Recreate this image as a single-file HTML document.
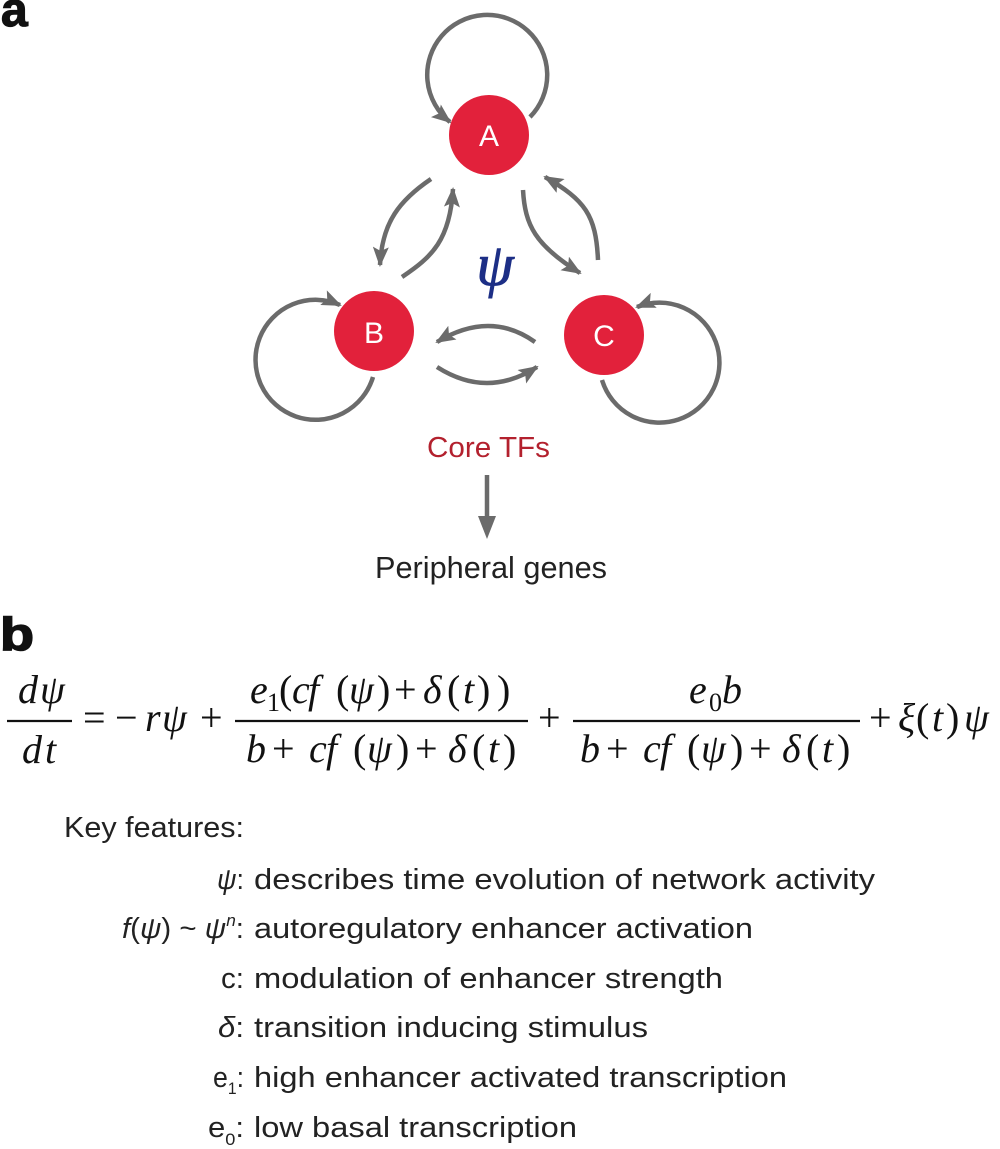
<!DOCTYPE html>
<html>
<head>
<meta charset="utf-8">
<style>
  html,body{margin:0;padding:0;background:#fff;}
  svg{display:block;}
  .m{font-family:"Liberation Serif","DejaVu Serif",serif;font-size:40px;fill:#111;}
  .i{font-style:italic;}
  .s{font-family:"Liberation Sans","DejaVu Sans",sans-serif;fill:#222;}
</style>
</head>
<body>
<svg width="1000" height="1149" viewBox="0 0 1000 1149" xmlns="http://www.w3.org/2000/svg">
  <defs>
    <marker id="ah" markerUnits="userSpaceOnUse" markerWidth="20" markerHeight="16" viewBox="0 0 20 16" refX="18" refY="8" orient="auto">
      <path d="M0,0 L20,8 L0,16 L4,8 Z" fill="#6b6b6b"/>
    </marker>
  </defs>

  <!-- panel labels -->
  <text x="1" y="26" font-family="Liberation Sans, sans-serif" font-weight="bold" font-size="48" fill="#111" stroke="#111" stroke-width="1.2">a</text>
  <text x="0" y="650" font-family="Liberation Sans, sans-serif" font-weight="bold" font-size="46" fill="#111" stroke="#111" stroke-width="1.5" textLength="34" lengthAdjust="spacingAndGlyphs">b</text>

  <!-- network connectors -->
  <g fill="none" stroke="#6b6b6b" stroke-width="4.5" marker-end="url(#ah)">
    <path d="M530,117 A60,60 0 1 0 450,122"/>
    <path d="M373,377 A60,60 0 1 1 340,305"/>
    <path d="M602,380 A60,60 0 1 0 637,307"/>
    <path d="M431,179 C400,200 382,222 380,265"/>
    <path d="M402,277 C432,257 450,240 453,189"/>
    <path d="M523,190 C525,225 535,245 580,273"/>
    <path d="M598,260 C596,215 585,200 545,177"/>
    <path d="M535,342 Q490,310 437,342"/>
    <path d="M437,367 Q487,399 537,367"/>
  </g>

  <!-- nodes -->
  <g fill="#e2213b">
    <circle cx="489" cy="135" r="40"/>
    <circle cx="374" cy="331" r="40"/>
    <circle cx="604" cy="335" r="40"/>
  </g>
  <g font-family="Liberation Sans, sans-serif" font-size="30" fill="#fff" text-anchor="middle">
    <text x="489" y="146">A</text>
    <text x="374" y="343">B</text>
    <text x="604" y="346">C</text>
  </g>

  <!-- psi -->
  <text x="495" y="285" text-anchor="middle" font-family="Liberation Serif, serif" font-style="italic" font-size="60" fill="#1d2f86" stroke="#1d2f86" stroke-width="1">ψ</text>

  <!-- Core TFs -> Peripheral genes -->
  <text class="s" x="427" y="457" font-size="29" style="fill:#b3212e" textLength="123" lengthAdjust="spacingAndGlyphs">Core TFs</text>
  <line x1="487" y1="475" x2="487" y2="520" stroke="#6b6b6b" stroke-width="4.5"/>
  <polygon points="478,516 496,516 487,539" fill="#6b6b6b"/>
  <text class="s" x="375" y="578" font-size="31" textLength="232" lengthAdjust="spacingAndGlyphs">Peripheral genes</text>

  <!-- equation -->
  <g class="m">
    <text y="703"><tspan class="i" x="18">d</tspan><tspan class="i" x="40">ψ</tspan></text>
    <text y="763"><tspan class="i" x="22">d</tspan><tspan class="i" x="45">t</tspan></text>
    <text y="731"><tspan x="83">=</tspan><tspan x="115">−</tspan><tspan class="i" x="145">r</tspan><tspan class="i" x="162">ψ</tspan><tspan x="200">+</tspan></text>
    <text y="703"><tspan class="i" x="250">e</tspan><tspan x="267" y="711" font-size="26">1</tspan><tspan x="279" y="703">(</tspan><tspan class="i" x="292 308">cf</tspan><tspan x="336">(</tspan><tspan class="i" x="349">ψ</tspan><tspan x="377 394">)+</tspan><tspan class="i" x="423">δ</tspan><tspan x="447">(</tspan><tspan class="i" x="463">t</tspan><tspan x="477 497">))</tspan></text>
    <text y="762"><tspan class="i" x="246">b</tspan><tspan x="272">+</tspan><tspan class="i" x="309 326">cf</tspan><tspan x="353">(</tspan><tspan class="i" x="367">ψ</tspan><tspan x="396 415">)+</tspan><tspan class="i" x="448">δ</tspan><tspan x="472">(</tspan><tspan class="i" x="488">t</tspan><tspan x="503">)</tspan></text>
    <text y="731" x="538">+</text>
    <text y="703"><tspan class="i" x="689">e</tspan><tspan x="709" y="711" font-size="26">0</tspan><tspan class="i" x="722" y="703">b</tspan></text>
    <text y="762"><tspan class="i" x="580">b</tspan><tspan x="606">+</tspan><tspan class="i" x="643 660">cf</tspan><tspan x="687">(</tspan><tspan class="i" x="701">ψ</tspan><tspan x="730 749">)+</tspan><tspan class="i" x="782">δ</tspan><tspan x="806">(</tspan><tspan class="i" x="822">t</tspan><tspan x="837">)</tspan></text>
    <text y="731"><tspan x="869">+</tspan><tspan class="i" x="898">ξ</tspan><tspan x="916">(</tspan><tspan class="i" x="932">t</tspan><tspan x="946">)</tspan><tspan class="i" x="964">ψ</tspan></text>
  </g>
  <g stroke="#111" stroke-width="2.2">
    <line x1="7" y1="721" x2="72" y2="721"/>
    <line x1="235" y1="721" x2="528" y2="721"/>
    <line x1="573" y1="721" x2="860" y2="721"/>
  </g>

  <!-- key features -->
  <g class="s" font-size="29">
    <text x="64" y="837" textLength="180" lengthAdjust="spacingAndGlyphs">Key features:</text>

    <text x="217" y="889" textLength="27" lengthAdjust="spacingAndGlyphs"><tspan font-style="italic">ψ</tspan>:</text>
    <text x="254" y="889" textLength="621" lengthAdjust="spacingAndGlyphs">describes time evolution of network activity</text>

    <text x="122" y="938" textLength="122" lengthAdjust="spacingAndGlyphs"><tspan font-style="italic">f</tspan>(<tspan font-style="italic">ψ</tspan>) ~ <tspan font-style="italic">ψ</tspan><tspan font-style="italic" font-size="17" dy="-12">n</tspan><tspan dy="12">:</tspan></text>
    <text x="254" y="938" textLength="499" lengthAdjust="spacingAndGlyphs">autoregulatory enhancer activation</text>

    <text x="221" y="988" textLength="23" lengthAdjust="spacingAndGlyphs">c:</text>
    <text x="254" y="988" textLength="469" lengthAdjust="spacingAndGlyphs">modulation of enhancer strength</text>

    <text x="218" y="1037" textLength="26" lengthAdjust="spacingAndGlyphs"><tspan font-style="italic">δ</tspan>:</text>
    <text x="254" y="1037" textLength="394" lengthAdjust="spacingAndGlyphs">transition inducing stimulus</text>

    <text x="213" y="1087" textLength="31" lengthAdjust="spacingAndGlyphs">e<tspan font-size="17" dy="7">1</tspan><tspan dy="-7">:</tspan></text>
    <text x="254" y="1087" textLength="533" lengthAdjust="spacingAndGlyphs">high enhancer activated transcription</text>

    <text x="208" y="1137" textLength="36" lengthAdjust="spacingAndGlyphs">e<tspan font-size="17" dy="8">0</tspan><tspan dy="-8">:</tspan></text>
    <text x="254" y="1137" textLength="323" lengthAdjust="spacingAndGlyphs">low basal transcription</text>
  </g>
</svg>
</body>
</html>
